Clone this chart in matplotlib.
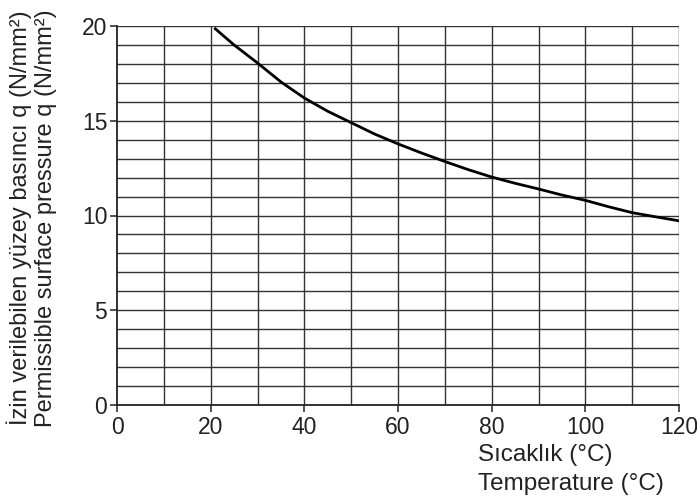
import matplotlib
matplotlib.use("Agg")
import matplotlib.pyplot as plt
import numpy as np

plt.rcParams['font.family'] = ['Liberation Sans', 'DejaVu Sans']

temperature = [21, 25, 30, 35, 40, 45, 50, 55, 60, 65, 70, 75, 80, 85, 90, 95, 100, 105, 110, 115, 120]
pressure = [19.85, 19.0, 18.05, 17.05, 16.2, 15.5, 14.9, 14.3, 13.78, 13.3, 12.85, 12.42, 12.03, 11.7, 11.4, 11.08, 10.8, 10.46, 10.15, 9.93, 9.72]

x_ticks = [0, 20, 40, 60, 80, 100, 120]
y_ticks = [0, 5, 10, 15, 20]

fig = plt.figure(figsize=(6.97, 5.03), dpi=100)
ax = fig.add_axes([117/697, (503-405)/503, (679-117)/697, (405-26)/503])

ax.set_xlim(0, 120)
ax.set_ylim(0, 20)

for xv in range(10, 121, 10):
    ax.axvline(xv, color='#333333', lw=1.0, zorder=1)
for yv in range(1, 21):
    ax.axhline(yv, color='#333333', lw=1.0, zorder=1)

ax.plot(temperature, pressure, color='black', lw=2.0, zorder=3)

ax.set_xticks(x_ticks)
ax.set_yticks(y_ticks)
ax.tick_params(direction='out', length=5, width=1.1, labelsize=16.5, colors='#222222')
ax.tick_params(axis='x', pad=3)
ax.tick_params(axis='y', pad=2)
for s in ['left', 'bottom']:
    ax.spines[s].set_linewidth(1.3)
    ax.spines[s].set_color('#222222')
for s in ['top', 'right']:
    ax.spines[s].set_visible(False)

fig.text(478/697, 1 - 455/503, "Sıcaklık (°C)", fontsize=17.5, ha='left', va='center', color='#222222')
fig.text(478/697, 1 - 484/503, "Temperature (°C)", fontsize=17.5, ha='left', va='center', color='#222222')

fig.text(19/697, 1 - 218/503, "İzin verilebilen yüzey basıncı q (N/mm²)", fontsize=17,
         rotation=90, ha='center', va='center', color='#222222')
fig.text(46/697, 1 - 218/503, "Permissible surface pressure q (N/mm²)", fontsize=17,
         rotation=90, ha='center', va='center', color='#222222')

fig.savefig("out.png", dpi=100)
